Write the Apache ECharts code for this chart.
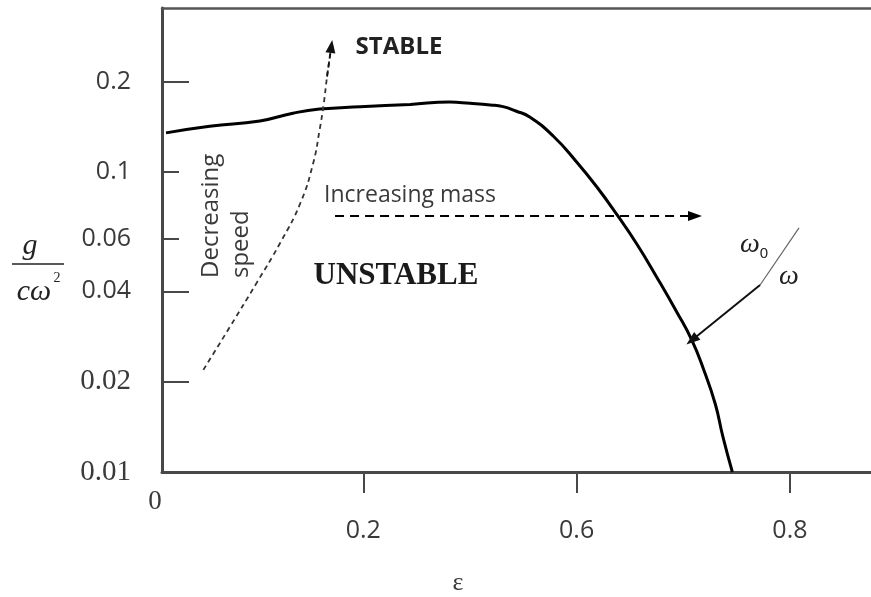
<!DOCTYPE html>
<html><head><meta charset="utf-8">
<script src="https://cdn.jsdelivr.net/npm/echarts@6/dist/echarts.min.js"></script>
<style>html,body{margin:0;padding:0;background:#fff}#c{width:871px;height:597px}</style>
</head><body><div id="c"></div>
<script>
// stability boundary (solid curve): eps vs g/(c w^2)
const boundaryEps = [0.015,0.056,0.103,0.134,0.159,0.197,0.244,0.281,0.300,0.319,0.331,0.343,0.356,0.378,0.400,0.419,0.438,0.457,0.475,0.494,0.508,0.519,0.530,0.537,0.546];
const boundaryG   = [0.135,0.142,0.148,0.157,0.162,0.165,0.168,0.171,0.1694,0.1673,0.1651,0.1597,0.1525,0.1318,0.108,0.0891,0.0719,0.0571,0.0447,0.0341,0.0275,0.0220,0.01685,0.01318,0.01];
// "Decreasing speed" dashed curve
const speedEps = [0.050,0.075,0.100,0.122,0.141,0.153,0.159,0.163,0.166,0.170];
const speedG   = [0.0219,0.0305,0.0427,0.058,0.0788,0.107,0.138,0.170,0.208,0.262];
// "Increasing mass" arrow
const massEps = [0.1735, 0.511];
const massG   = [0.0713, 0.0713];
// omega0/omega pointer and slash
const omegaEps = [0.572, 0.508];
const omegaG   = [0.042, 0.0275];
const slashEps = [0.572, 0.6085];
const slashG   = [0.042, 0.0651];
// ticks
const xTickValues = [0.2, 0.4, 0.6];
const xTickLabels = ['0.2', '0.6', '0.8'];
const yTickLong   = [0.2, 0.04, 0.02];
const yTickShort  = [0.1, 0.06];
const yLabelValues = [0.2, 0.1, 0.06, 0.04, 0.02, 0.01];
const yLabelSerif  = [0.02, 0.01];

const zip = (a, b) => a.map((v, i) => [v, b[i]]);
const axisColor = '#484848';
const labelColor = '#3a3a3a';

const chart = echarts.init(document.getElementById('c'), null, {renderer: 'canvas'});
const speed = zip(speedEps, speedG);
chart.setOption({
  animation: false,
  backgroundColor: '#fff',
  grid: {left: 162, right: 0, top: 8, bottom: 125},
  xAxis: [{
    type: 'value', min: 0.01125, max: 0.676, position: 'bottom',
    axisLine: {show: true, lineStyle: {color: axisColor, width: 3}},
    axisTick: {show: true, customValues: xTickValues, length: 21, inside: false, lineStyle: {color: axisColor, width: 2}},
    axisLabel: {show: true, customValues: xTickValues, margin: 46, color: labelColor,
      fontFamily: 'Open Sans', fontSize: 25,
      formatter: v => { const i = xTickValues.findIndex(t => Math.abs(t - v) < 1e-6); return i >= 0 ? xTickLabels[i] : ''; }},
    splitLine: {show: false}
  }, {
    type: 'value', min: 0.01125, max: 0.676, position: 'top',
    axisLine: {show: true, lineStyle: {color: '#555', width: 2.5}},
    axisTick: {show: false}, axisLabel: {show: false}, splitLine: {show: false}
  }],
  yAxis: [{
    type: 'log', min: 0.01, max: 0.352, logBase: 10, position: 'left',
    axisLine: {show: true, lineStyle: {color: axisColor, width: 3}},
    axisTick: {show: true, customValues: yTickLong, inside: true, length: 27, lineStyle: {color: axisColor, width: 2}},
    axisLabel: {show: true, customValues: yLabelValues, margin: 31, color: labelColor,
      formatter: v => {
        const s = String(+v.toPrecision(3));
        return yLabelSerif.some(t => Math.abs(t - v) < 1e-9) ? '{t|' + s + '}' : '{s|' + s + '}';
      },
      rich: {
        s: {fontFamily: 'Open Sans', fontSize: 25, color: labelColor},
        t: {fontFamily: 'Liberation Serif', fontSize: 29, color: labelColor}
      }},
    splitLine: {show: false}
  }, {
    type: 'log', min: 0.01, max: 0.352, logBase: 10, position: 'left',
    axisLine: {show: false},
    axisTick: {show: true, customValues: yTickShort, inside: true, length: 17, lineStyle: {color: axisColor, width: 2}},
    axisLabel: {show: false}, splitLine: {show: false}
  }],
  series: [{
    type: 'line', xAxisIndex: 0, yAxisIndex: 0,
    data: zip(boundaryEps, boundaryG), smooth: 0.5, showSymbol: false, silent: true,
    lineStyle: {color: '#000', width: 3},
    markLine: {
      silent: true, animation: false, symbol: ['none', 'triangle'], symbolSize: [10, 14],
      label: {show: false},
      data: [
        [{coord: [massEps[0], massG[0]], lineStyle: {color: '#000', width: 2, type: [9, 6]}},
         {coord: [massEps[1], massG[1]]}],
        [{coord: [omegaEps[0], omegaG[0]], lineStyle: {color: '#111', width: 2, type: 'solid'}},
         {coord: [omegaEps[1], omegaG[1]]}],
        [{coord: [slashEps[0], slashG[0]], symbol: 'none', lineStyle: {color: '#666', width: 1.2, type: 'solid'}},
         {coord: [slashEps[1], slashG[1]], symbol: 'none'}]
      ]
    }
  }, {
    type: 'line', xAxisIndex: 0, yAxisIndex: 0,
    data: speed, smooth: 0.5, showSymbol: false, silent: true,
    lineStyle: {color: '#333', width: 1.8, type: [5, 4]},
    markLine: {
      silent: true, animation: false, symbol: ['none', 'triangle'], symbolSize: [10, 13],
      label: {show: false},
      lineStyle: {color: '#111', width: 1.8, type: [5, 4]},
      data: [[{coord: speed[speed.length - 2]}, {coord: speed[speed.length - 1]}]]
    }
  }],
  graphic: [
    {type: 'text', x: 399, y: 47, style: {text: 'STABLE', fontFamily: 'Open Sans', fontWeight: 'bold', fontSize: 24, fill: '#222', textAlign: 'center', textVerticalAlign: 'middle'}},
    {type: 'text', x: 396, y: 276, style: {text: 'UNSTABLE', fontFamily: 'Liberation Serif', fontWeight: 'bold', fontSize: 31, fill: '#1a1a1a', textAlign: 'center', textVerticalAlign: 'middle'}},
    {type: 'text', x: 410, y: 195, style: {text: 'Increasing mass', fontFamily: 'Open Sans', fontSize: 23, fill: labelColor, textAlign: 'center', textVerticalAlign: 'middle'}},
    {type: 'text', x: 211, y: 278, rotation: Math.PI / 2, style: {text: 'Decreasing', fontFamily: 'Open Sans', fontSize: 24, fill: labelColor, textAlign: 'left', textVerticalAlign: 'middle'}},
    {type: 'text', x: 241, y: 278, rotation: Math.PI / 2, style: {text: 'speed', fontFamily: 'Open Sans', fontSize: 24, fill: labelColor, textAlign: 'left', textVerticalAlign: 'middle'}},
    {type: 'text', x: 750, y: 245, style: {text: 'ω', fontFamily: 'Liberation Serif', fontStyle: 'italic', fontSize: 28, fill: '#222', textAlign: 'center', textVerticalAlign: 'middle'}},
    {type: 'text', x: 764, y: 254, style: {text: '0', fontFamily: 'Liberation Sans', fontSize: 15, fill: '#222', textAlign: 'center', textVerticalAlign: 'middle'}},
    {type: 'text', x: 789, y: 277, style: {text: 'ω', fontFamily: 'Liberation Serif', fontStyle: 'italic', fontSize: 28, fill: '#222', textAlign: 'center', textVerticalAlign: 'middle'}},
    {type: 'text', x: 155, y: 502, style: {text: '0', fontFamily: 'Liberation Serif', fontSize: 27, fill: labelColor, textAlign: 'center', textVerticalAlign: 'middle'}},
    {type: 'text', x: 458, y: 583, style: {text: 'ε', fontFamily: 'Liberation Serif', fontSize: 26, fill: labelColor, textAlign: 'center', textVerticalAlign: 'middle'}},
    {type: 'text', x: 30, y: 246, style: {text: 'g', fontFamily: 'Liberation Serif', fontStyle: 'italic', fontSize: 30, fill: '#222', textAlign: 'center', textVerticalAlign: 'middle'}},
    {type: 'line', shape: {x1: 12, y1: 264, x2: 64, y2: 264}, style: {stroke: '#222', lineWidth: 1.5}},
    {type: 'text', x: 34, y: 292, style: {text: 'cω', fontFamily: 'Liberation Serif', fontStyle: 'italic', fontSize: 30, fill: '#222', textAlign: 'center', textVerticalAlign: 'middle'}},
    {type: 'text', x: 57, y: 278, style: {text: '2', fontFamily: 'Liberation Serif', fontSize: 14, fill: '#222', textAlign: 'center', textVerticalAlign: 'middle'}}
  ]
});
</script></body></html>
